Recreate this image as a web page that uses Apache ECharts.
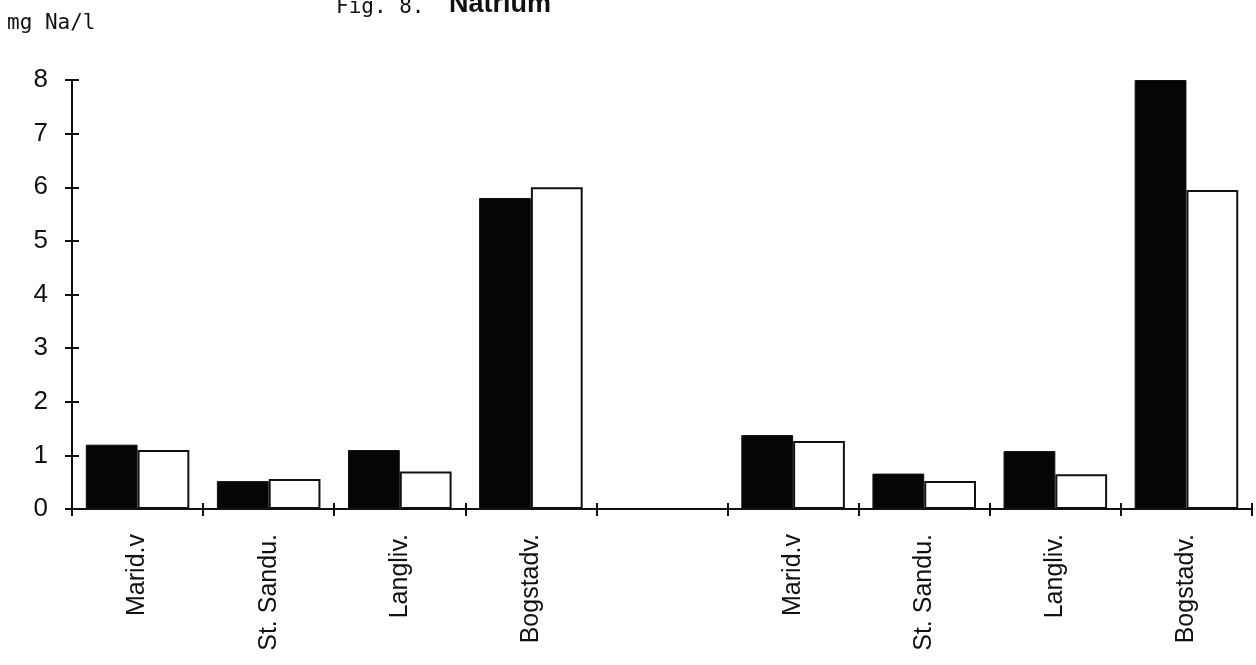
<!DOCTYPE html>
<html>
<head>
<meta charset="utf-8">
<script src="https://cdn.jsdelivr.net/npm/echarts@6/dist/echarts.min.js"></script>
<style>
  html, body { margin: 0; padding: 0; background: #fff; }
  #chart { width: 1256px; height: 665px; }
</style>
</head>
<body>
<div id="chart"></div>
<script>
// ---- data ----
const categories = ['Marid.v', 'St. Sandu.', 'Langliv.', 'Bogstadv.', '', 'Marid.v', 'St. Sandu.', 'Langliv.', 'Bogstadv.'];
const blackValues = [1.2, 0.52, 1.1, 5.8, null, 1.38, 0.66, 1.08, 8.0];
const whiteValues = [1.1, 0.56, 0.7, 6.0, null, 1.27, 0.52, 0.65, 5.95];
const yTicks = [0, 1, 2, 3, 4, 5, 6, 7, 8];
const titleLeft = 'Fig. 8.';
const titleRight = 'Natrium';
const unitLabel = 'mg Na/l';

const INK = '#111';
const chart = echarts.init(document.getElementById('chart'), null, { renderer: 'canvas' });

const option = {
  backgroundColor: '#fff',
  animation: false,
  grid: { left: 72, right: 4, top: 80, bottom: 156, containLabel: false },
  graphic: [
    { type: 'text', left: 7, top: 13, style: { text: unitLabel, font: '21px "DejaVu Sans Mono"', fill: INK } },
    { type: 'text', left: 336, top: -3, style: { text: titleLeft, font: '21px "DejaVu Sans Mono"', fill: INK } },
    { type: 'text', left: 449, top: -9, style: { text: titleRight, font: 'bold 27px "Liberation Sans", Arial', fill: INK } }
  ],
  xAxis: [
    {
      type: 'category', data: categories, position: 'bottom',
      axisLine: { lineStyle: { color: INK, width: 2 } },
      axisTick: { show: true, length: 7, lineStyle: { color: INK, width: 2 } },
      axisLabel: { rotate: 90, margin: 25, color: INK, fontSize: 25, fontFamily: '"Liberation Sans", Arial', interval: 0 }
    },
    {
      type: 'category', data: categories, position: 'bottom', offset: 0,
      axisLine: { show: false },
      axisTick: { show: true, inside: true, length: 6, lineStyle: { color: INK, width: 2 } },
      axisLabel: { show: false }
    }
  ],
  yAxis: [
    {
      type: 'value', min: yTicks[0], max: yTicks[yTicks.length - 1], interval: 1, position: 'left',
      axisLine: { show: true, lineStyle: { color: INK, width: 2 } },
      axisTick: { show: true, length: 7, lineStyle: { color: INK, width: 2 } },
      splitLine: { show: false },
      axisLabel: { margin: 24, color: INK, fontSize: 26, fontFamily: '"Liberation Sans", Arial' }
    },
    {
      type: 'value', min: yTicks[0], max: yTicks[yTicks.length - 1], interval: 1, position: 'left', offset: 0,
      axisLine: { show: false },
      axisTick: { show: true, inside: true, length: 7, lineStyle: { color: INK, width: 2 } },
      splitLine: { show: false },
      axisLabel: { show: false }
    }
  ],
  series: [
    {
      type: 'bar', xAxisIndex: 0, yAxisIndex: 0, data: blackValues,
      barGap: '0%', barCategoryGap: '21%',
      itemStyle: { color: '#050505', borderColor: INK, borderWidth: 1 }
    },
    {
      type: 'bar', xAxisIndex: 0, yAxisIndex: 0, data: whiteValues,
      barGap: '0%', barCategoryGap: '21%',
      itemStyle: { color: '#fff', borderColor: INK, borderWidth: 2 }
    }
  ]
};
chart.setOption(option);
</script>
</body>
</html>
